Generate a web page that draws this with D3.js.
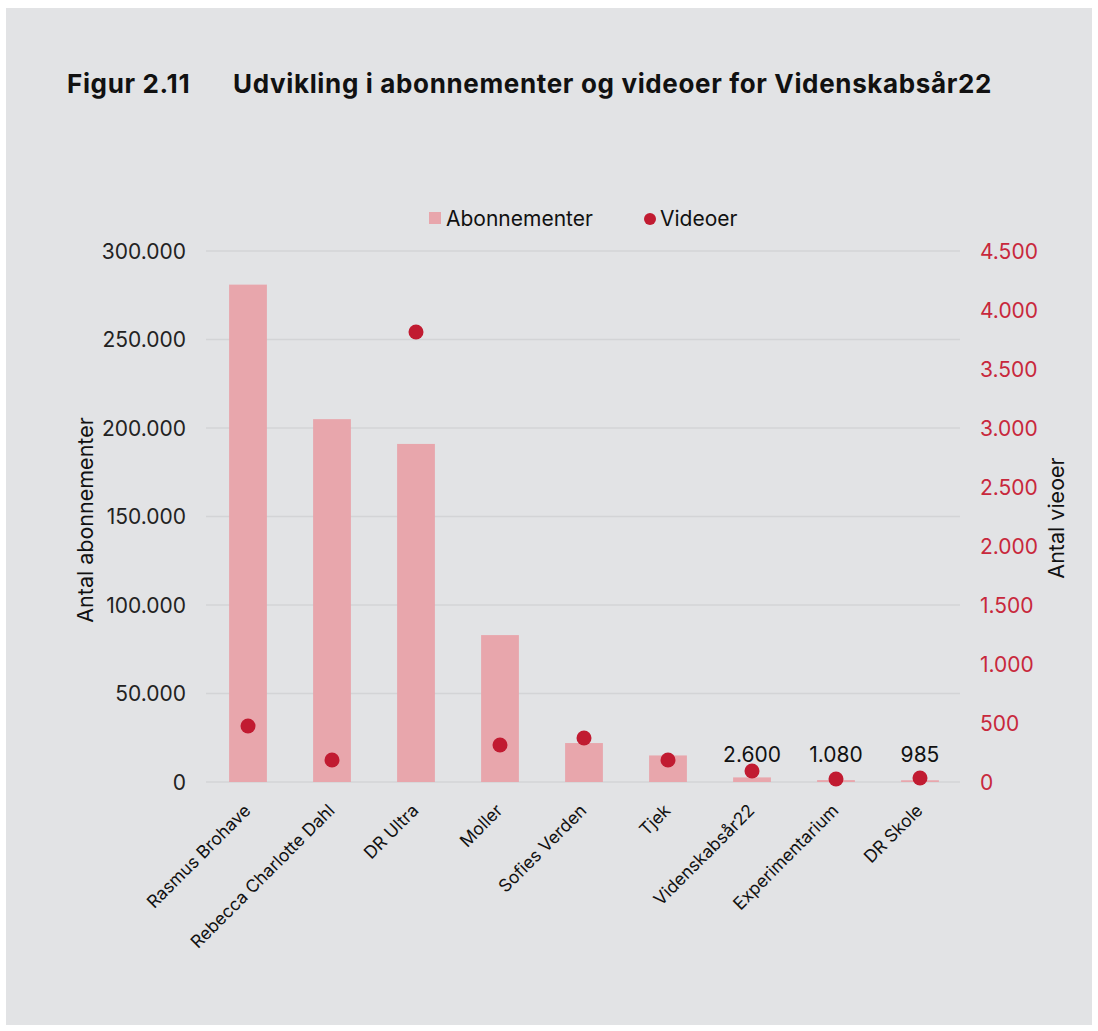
<!DOCTYPE html>
<html>
<head>
<meta charset="utf-8">
<script src="https://cdn.jsdelivr.net/npm/d3@7"></script>
<style>
  body { margin: 0; background: #fff; }
  svg { display: block; font-family: Inter, "Noto Sans", sans-serif; }
</style>
</head>
<body>
<svg id="chart" width="1098" height="1031"></svg>
<script>
const kanaler = ['Rasmus Brohave', 'Rebecca Charlotte Dahl', 'DR Ultra', 'Moller', 'Sofies Verden', 'Tjek', 'Videnskabsår22', 'Experimentarium', 'DR Skole'];
const abonnementer = [281000, 205000, 191000, 83000, 22000, 15000, 2600, 1080, 985];
const videoer = [475, 186, 3814, 314, 373, 186, 93, 25, 34];
const venstreTicks = [0, 50000, 100000, 150000, 200000, 250000, 300000];
const hoejreTicks = [0, 500, 1000, 1500, 2000, 2500, 3000, 3500, 4000, 4500];
const visLabels = ['Videnskabsår22', 'Experimentarium', 'DR Skole'];

const barColor = '#e8a6ac';
const dotColor = '#c11b31';
const redText = '#c8283c';

const svg = d3.select('#chart');
const fmt = d3.formatLocale({ decimal: ',', thousands: '.', grouping: [3], currency: ['', ' kr'] }).format(',d');

// baggrund
svg.append('rect').attr('x', 6).attr('y', 8).attr('width', 1086).attr('height', 1017).attr('fill', '#e2e3e5');

// titel
svg.append('text').attr('x', 67).attr('y', 93).attr('font-size', 26).attr('letter-spacing', 0.65).attr('font-weight', 700).attr('fill', '#111').text('Figur 2.11');
svg.append('text').attr('x', 233).attr('y', 93).attr('font-size', 26).attr('letter-spacing', 0.65).attr('font-weight', 700).attr('fill', '#111').text('Udvikling i abonnementer og videoer for Videnskabsår22');

const x = d3.scaleBand().domain(kanaler).range([206, 962]).paddingInner(0.55).paddingOuter(0.275);
const yL = d3.scaleLinear().domain([0, 300000]).range([782, 251]);
const yR = d3.scaleLinear().domain([0, 4500]).range([782, 251]);

// gitterlinjer
svg.append('g').selectAll('line').data(venstreTicks).join('line')
  .attr('x1', 206).attr('x2', 960)
  .attr('y1', d => yL(d)).attr('y2', d => yL(d))
  .attr('stroke', '#d3d4d6').attr('stroke-width', 1.5);

// venstre akse
const axL = svg.append('g').attr('transform', 'translate(196,0)')
  .call(d3.axisLeft(yL).tickValues(venstreTicks).tickFormat(fmt).tickSize(0).tickPadding(10));
axL.select('.domain').remove();
axL.selectAll('text').attr('font-size', 21).attr('fill', '#222').attr('font-family', 'Inter, sans-serif').attr('dy', '0.35em');

// højre akse
const axR = svg.append('g').attr('transform', 'translate(970,0)')
  .call(d3.axisRight(yR).tickValues(hoejreTicks).tickFormat(fmt).tickSize(0).tickPadding(10));
axR.select('.domain').remove();
axR.selectAll('text').attr('font-size', 21).attr('fill', redText).attr('font-family', 'Inter, sans-serif').attr('dy', '0.35em');

// aksetitler
svg.append('text').attr('transform', 'translate(93,520) rotate(-90)').attr('text-anchor', 'middle')
  .attr('font-size', 21.5).attr('fill', '#111').text('Antal abonnementer');
svg.append('text').attr('transform', 'translate(1064,518) rotate(-90)').attr('text-anchor', 'middle')
  .attr('font-size', 21.5).attr('fill', '#111').text('Antal vieoer');

// søjler
svg.append('g').selectAll('rect').data(kanaler).join('rect')
  .attr('x', d => x(d)).attr('width', x.bandwidth())
  .attr('y', (d, i) => yL(abonnementer[i]))
  .attr('height', (d, i) => yL(0) - yL(abonnementer[i]))
  .attr('fill', barColor);

// værdietiketter
svg.append('g').selectAll('text').data(kanaler.filter(k => visLabels.includes(k))).join('text')
  .attr('x', d => x(d) + x.bandwidth() / 2)
  .attr('y', 762)
  .attr('text-anchor', 'middle').attr('font-size', 21).attr('fill', '#111')
  .text(d => fmt(abonnementer[kanaler.indexOf(d)]));

// prikker
svg.append('g').selectAll('circle').data(kanaler).join('circle')
  .attr('cx', d => x(d) + x.bandwidth() / 2)
  .attr('cy', (d, i) => yR(videoer[i]))
  .attr('r', 7.5).attr('fill', dotColor);

// x-etiketter
svg.append('g').selectAll('text').data(kanaler).join('text')
  .attr('transform', d => `translate(${x(d) + x.bandwidth() / 2 - 5},${803}) rotate(-45)`)
  .attr('text-anchor', 'end').attr('dy', '0.7em').attr('font-size', 17.5).attr('fill', '#111')
  .text(d => d);

// legende
const leg = svg.append('g');
leg.append('rect').attr('x', 429).attr('y', 212).attr('width', 12).attr('height', 12).attr('fill', barColor);
leg.append('text').attr('x', 446).attr('y', 219).attr('dy', '0.35em').attr('font-size', 21).attr('fill', '#111').text('Abonnementer');
leg.append('circle').attr('cx', 650).attr('cy', 219).attr('r', 6).attr('fill', dotColor);
leg.append('text').attr('x', 660).attr('y', 219).attr('dy', '0.35em').attr('font-size', 21).attr('fill', '#111').text('Videoer');
</script>
</body>
</html>
